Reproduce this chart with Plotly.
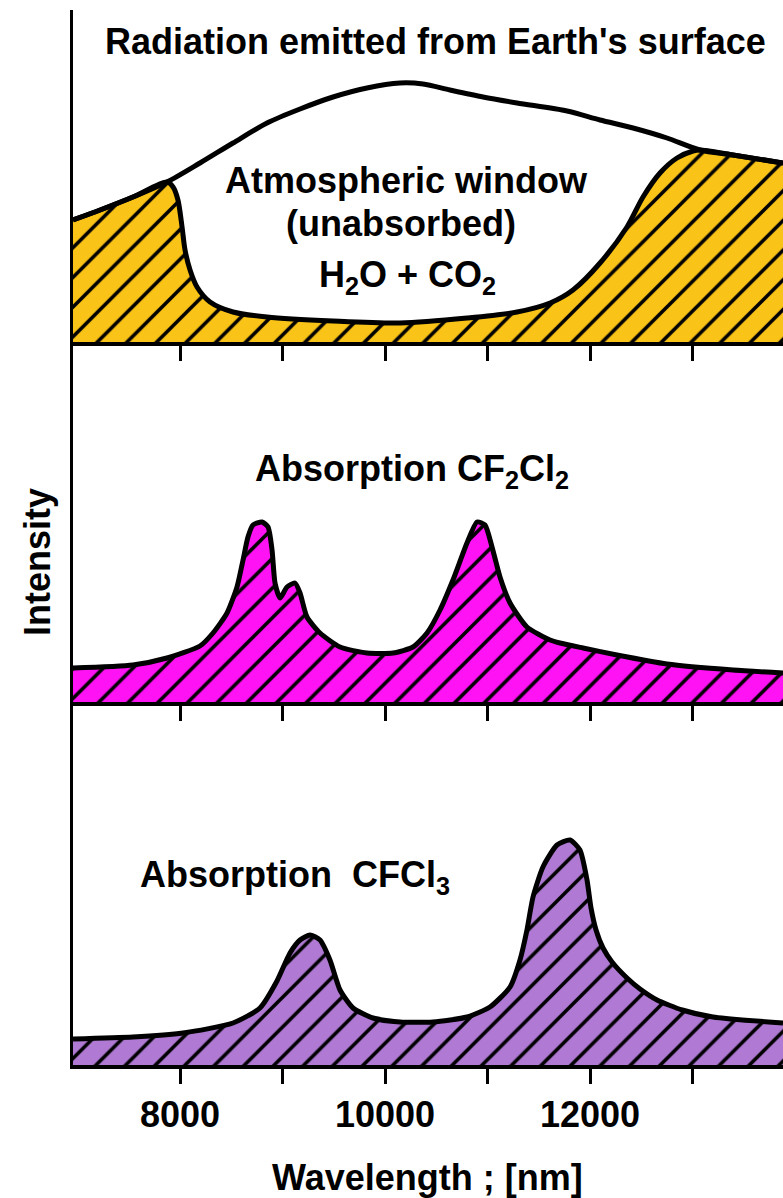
import plotly.graph_objects as go

# ---------------- data (wavelength in nm, intensity in arbitrary units) ----------------
emit_nm = [6956, 7220, 7541, 7873, 8195, 8517, 8849, 9171, 9493, 9824, 10146, 10371,
           10634, 10956, 11288, 11776, 12098, 12420, 12751, 13073, 13395, 13883]
emit_val = [122, 132, 145, 160, 179, 199, 219, 233, 245, 254, 259, 258,
            252, 245, 239, 231, 222, 214, 204, 192, 187, 179]

absorb_nm = [6956, 7220, 7541, 7873, 7932, 7980, 8020, 8049, 8098, 8166, 8293, 8517,
             8849, 9493, 10146, 10800, 11288, 11610, 11834, 12098, 12361, 12517, 12683,
             12849, 13005, 13073, 13395, 13883]
absorb_val = [122, 132, 145, 160, 155, 142, 115, 92, 72, 55, 40, 30,
              25, 21, 19, 24, 30, 39, 52, 79, 115, 145, 169,
              184, 191, 192, 187, 179]

cf2cl2_nm = [6956, 7541, 7873, 8195, 8322, 8459, 8556, 8615, 8663, 8712, 8800,
             8859, 8898, 8927, 8976, 9044, 9122, 9171, 9239, 9366, 9561, 9824, 10078,
             10273, 10410, 10537, 10663, 10800, 10898, 10976, 11044, 11122, 11220,
             11385, 11610, 11707, 11932, 12263, 12751, 13395, 13883]
cf2cl2_val = [34, 37, 44, 56, 69, 89, 115, 142, 165, 177, 180,
              175, 152, 119, 104, 115, 119, 109, 85, 69, 55, 49, 49,
              55, 69, 92, 122, 159, 180, 177, 155, 125, 99,
              75, 62, 59, 54, 47, 38, 32, 29]

cfcl3_nm = [6956, 7541, 8029, 8517, 8780, 8946, 9073, 9171, 9268, 9366, 9463,
            9561, 9688, 9883, 10146, 10468, 10800, 11024, 11220, 11317, 11385, 11444,
            11541, 11678, 11805, 11902, 11971, 12010, 12059, 12127, 12215, 12361,
            12488, 12654, 12900, 13200, 13883]
cfcl3_val = [26, 28, 32, 42, 57, 84, 112, 125, 130, 125, 105,
             75, 57, 47, 43, 43, 48, 58, 78, 105, 135, 168,
             198, 220, 225, 215, 185, 157, 135, 117, 103, 87,
             76, 65, 55, 48, 42]

tick_vals = [8000, 9000, 10000, 11000, 12000, 13000]
tick_text = ["8000", "", "10000", "", "12000", ""]

# ---------------- styling ----------------
FONT = "Liberation Sans, Arial, sans-serif"
YELLOW = "#FAC317"
MAGENTA = "#FF12F4"
PURPLE = "#B07AD4"
XR = [6956, 13883]

fig = go.Figure()


def hatch(bg):
    return dict(shape="/", bgcolor=bg, fgcolor="black", size=21, solidity=0.17, fillmode="replace")


fig.add_trace(go.Scatter(x=absorb_nm, y=absorb_val, xaxis="x", yaxis="y", mode="lines",
                         line=dict(color="black", width=5, shape="spline", smoothing=0.8),
                         fill="tozeroy", fillcolor=YELLOW, fillpattern=hatch(YELLOW),
                         hoverinfo="skip", showlegend=False))
fig.add_trace(go.Scatter(x=emit_nm, y=emit_val, xaxis="x", yaxis="y", mode="lines",
                         line=dict(color="black", width=5, shape="spline", smoothing=0.8),
                         hoverinfo="skip", showlegend=False))
fig.add_trace(go.Scatter(x=cf2cl2_nm, y=cf2cl2_val, xaxis="x2", yaxis="y2", mode="lines",
                         line=dict(color="black", width=5, shape="spline", smoothing=0.6),
                         fill="tozeroy", fillcolor=MAGENTA, fillpattern=hatch(MAGENTA),
                         hoverinfo="skip", showlegend=False))
fig.add_trace(go.Scatter(x=cfcl3_nm, y=cfcl3_val, xaxis="x3", yaxis="y3", mode="lines",
                         line=dict(color="black", width=5, shape="spline", smoothing=0.6),
                         fill="tozeroy", fillcolor=PURPLE, fillpattern=hatch(PURPLE),
                         hoverinfo="skip", showlegend=False))

T, B = 10, 1065


def py(y):
    return (B - y) / (B - T)


def px(x):
    return (x - 73) / 710


xcommon = dict(range=XR, showgrid=False, zeroline=False, showline=True, linecolor="black",
               linewidth=4, ticks="outside", ticklen=15, tickwidth=3, tickcolor="black",
               tickvals=tick_vals, ticktext=tick_text, fixedrange=True)
ycommon = dict(showgrid=False, zeroline=False, showline=True, linecolor="black", linewidth=3,
               showticklabels=False, ticks="", fixedrange=True)

fig.update_layout(
    width=783, height=1198,
    margin=dict(l=73, r=0, t=T, b=1198 - B),
    paper_bgcolor="white", plot_bgcolor="white",
    xaxis=dict(**xcommon, anchor="y", showticklabels=False),
    yaxis=dict(**ycommon, anchor="x", domain=[py(342), 1.0], range=[0, 332]),
    xaxis2=dict(**xcommon, anchor="y2", showticklabels=False),
    yaxis2=dict(**ycommon, anchor="x2", domain=[py(702), py(342)], range=[0, 360]),
    xaxis3=dict(**xcommon, anchor="y3", showticklabels=True,
                tickfont=dict(family=FONT, size=36, color="black", weight="bold")),
    yaxis3=dict(**ycommon, anchor="x3", domain=[0, py(702)], range=[0, 363]),
)

ann_font = dict(family=FONT, size=36, color="black", weight="bold")


def label(text, x, y, angle=0):
    fig.add_annotation(text=text, x=px(x), y=py(y), xref="paper", yref="paper",
                       xanchor="center", yanchor="middle", showarrow=False,
                       font=ann_font, textangle=angle, borderpad=0)


label("Radiation emitted from Earth's surface", 435, 42)
label("Atmospheric window", 406, 180)
label("(unabsorbed)", 401, 224)
label("H<sub>2</sub>O + CO<sub>2</sub>", 407, 277)
label("Absorption CF<sub>2</sub>Cl<sub>2</sub>", 412, 471)
label("Absorption  CFCl<sub>3</sub>", 295, 877)
label("Intensity", 37, 562, angle=-90)
label("Wavelength ; [nm]", 427, 1177)

fig.write_html("out.html", config={"displayModeBar": False},
               post_script="document.body.style.margin='0';")
